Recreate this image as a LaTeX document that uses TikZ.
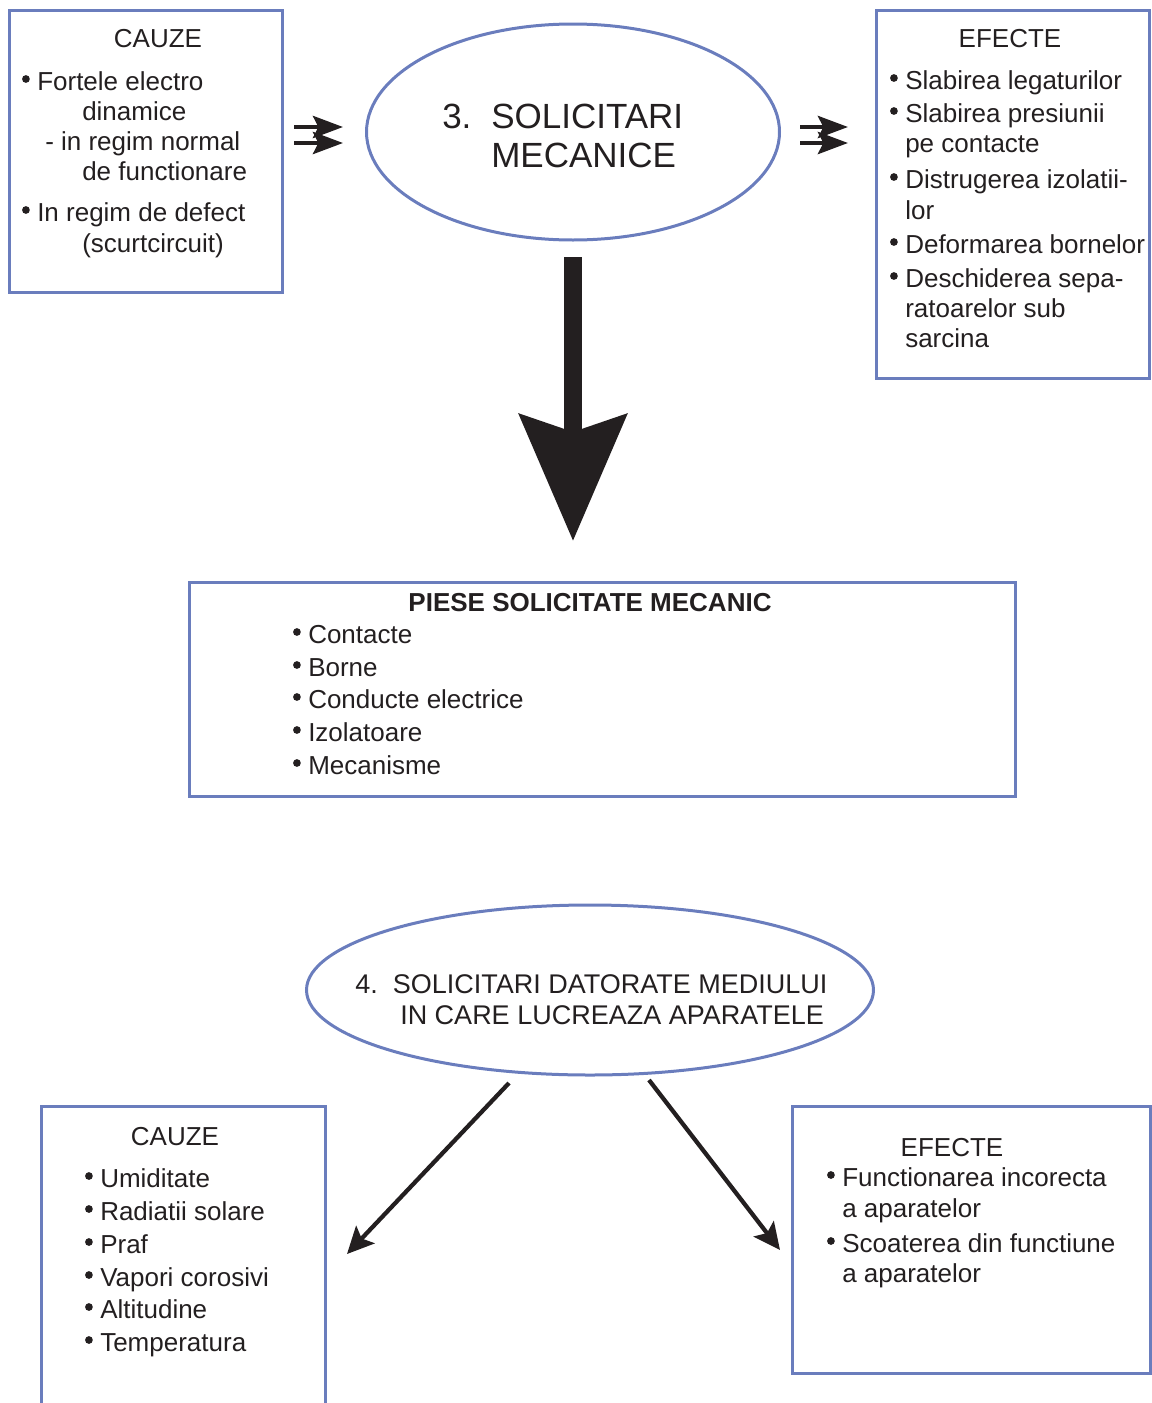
\documentclass[tikz,border=0pt]{standalone}
\usepackage{fontspec}
\setmainfont{Liberation Sans}
\usetikzlibrary{arrows.meta,shapes.geometric}
\definecolor{frameblue}{RGB}{106,125,189}
\definecolor{inkblack}{RGB}{35,31,32}
\newcommand{\dotat}[1]{\fill[inkblack] ([xshift=-8.3pt,yshift=8.25pt]#1.base west) circle[radius=2.9pt];}
\tikzset{
  box/.style={draw=frameblue, line width=2.25pt, rectangle, inner sep=0pt, outer sep=0pt},
  oval/.style={draw=frameblue, line width=2.25pt, ellipse, inner sep=0pt, outer sep=0pt},
  txt/.style={anchor=base west, inner sep=0pt, text=inkblack, font=\fontsize{19.5}{22}\selectfont},
  head/.style={txt, anchor=base},
  bigtxt/.style={txt, font=\fontsize{26.25}{30}\selectfont},
  ovaltxt/.style={txt, font=\fontsize{20.25}{23}\selectfont},
  dblarrow/.style={draw=inkblack, line width=3.4pt, -{Stealth[length=22.5pt, width=16.5pt, inset=4pt]}},
  slimarrow/.style={draw=inkblack, line width=3.2pt, -{Stealth[length=20pt, width=19pt, inset=4pt]}},
  bigarrow/.style={draw=inkblack, line width=13.5pt, -{Stealth[length=94.5pt, width=79.5pt, inset=12.75pt]}}
}
\begin{document}
\begin{tikzpicture}[x=0.75pt, y=-0.75pt]
\useasboundingbox (0,0) rectangle (1152,1403);
\clip (0,0) rectangle (1152,1403);

% mechanical stress
\node[box, minimum width=204.4pt, minimum height=211.5pt] (cauze) at (145.75,151) {};
\node[box, minimum width=204.75pt, minimum height=276pt] (efecte) at (1012.5,194) {};
\node[oval, minimum width=309.75pt, minimum height=162pt] (mec) at (573,132) {};
\node[box, minimum width=619.5pt, minimum height=160.5pt] (piese) at (602,689) {};

\node[head] (cauzeT) at (158,47) {CAUZE};
\foreach \x/\y/\t/\b [count=\i] in {37/90/{Fortele electro}/1, 82/120/{dinamice}/0,
    45/150/{- in regim normal}/0, 82/180/{de functionare}/0,
    37/221/{In regim de defect}/1, 82/252/{(scurtcircuit)}/0} {
  \node[txt] (ca\i) at (\x,\y) {\t};
  \ifnum\b=1 \dotat{ca\i} \fi
}

\node[head] (efecteT) at (1010,47) {EFECTE};
\foreach \y/\t/\b [count=\i] in {89/{Slabirea legaturilor}/1, 122/{Slabirea presiunii}/1,
    152/{pe contacte}/0, 188/{Distrugerea izolatii-}/1, 219/{lor}/0,
    253/{Deformarea bornelor}/1, 287/{Deschiderea sepa-}/1,
    317/{ratoarelor sub}/0, 347/{sarcina}/0} {
  \node[txt] (ef\i) at (905,\y) {\t};
  \ifnum\b=1 \dotat{ef\i} \fi
}

\node[bigtxt] (mecN) at (442,128) {3.};
\node[bigtxt] (mecA) at (491,128) {SOLICITARI};
\node[bigtxt] (mecB) at (491,167) {MECANICE};

\node[head, font=\fontsize{19.5}{22}\selectfont\bfseries] (pieseT) at (590,611) {PIESE SOLICITATE MECANIC};
\foreach \y/\t [count=\i] in {643/Contacte, 676/Borne, 708/Conducte electrice,
    741/Izolatoare, 774/Mecanisme} {
  \node[txt] (pi\i) at (308,\y) {\t};
  \dotat{pi\i}
}

\foreach \y in {127,143} {
  \draw[dblarrow, shorten <=9pt, shorten >=17.6pt] (cauze.east |- 0,\y) -- (mec.west |- 0,\y);
  \draw[dblarrow, shorten <=15.4pt, shorten >=21pt] (mec.east |- 0,\y) -- (efecte.west |- 0,\y);
}
\draw[bigarrow, shorten <=12.75pt, shorten >=30.75pt] (mec.south) -- (mec.south |- piese.north);

% environment stress
\node[oval, minimum width=425.25pt, minimum height=127.5pt] (env) at (590,990) {};
\node[ovaltxt] (envA) at (355,993) {4.\ \ SOLICITARI DATORATE MEDIULUI};
\node[ovaltxt] (envB) at (400,1024) {IN CARE LUCREAZA APARATELE};

\node[box, minimum width=213pt, minimum height=235.5pt] (cauzeB) at (183,1263) {};
\node[head] (cauzeBT) at (175,1145) {CAUZE};
\foreach \y/\t [count=\i] in {1187/Umiditate, 1220/Radiatii solare, 1253/Praf,
    1286/Vapori corosivi, 1318/Altitudine, 1351/Temperatura} {
  \node[txt] (cb\i) at (100,\y) {\t};
  \dotat{cb\i}
}

\node[box, minimum width=268.5pt, minimum height=200.25pt] (efecteB) at (971,1239.5) {};
\node[head] (efecteBT) at (952,1156) {EFECTE};
\foreach \y/\t/\b [count=\i] in {1186/{Functionarea incorecta}/1, 1217/{a aparatelor}/0,
    1252/{Scoaterea din functiune}/1, 1282/{a aparatelor}/0} {
  \node[txt] (eb\i) at (842,\y) {\t};
  \ifnum\b=1 \dotat{eb\i} \fi
}

\coordinate (envL) at (509,1083);
\coordinate (cauzeTip) at (347,1254);
\coordinate (envR) at (649,1080);
\coordinate (efecteTip) at (780,1250);
\draw[slimarrow] (envL) -- (cauzeTip);
\draw[slimarrow] (envR) -- (efecteTip);
\end{tikzpicture}
\end{document}
